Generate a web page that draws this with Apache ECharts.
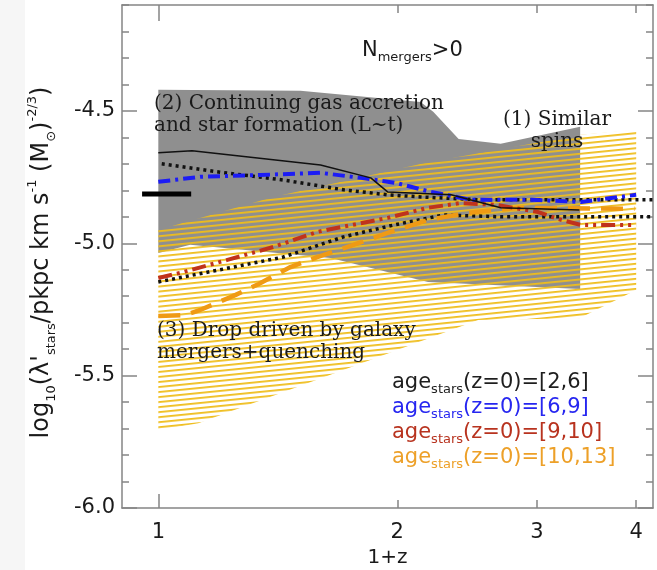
<!DOCTYPE html>
<html><head><meta charset="utf-8">
<script src="https://cdn.jsdelivr.net/npm/echarts@6/dist/echarts.min.js"></script>
<style>html,body{margin:0;padding:0;background:#fff}#c{width:657px;height:570px}</style>
</head><body><div id="c"></div>
<script>
// ---- data (x values are 1+z, y values are log10 lambda') ----
const grayUpperX = [1.0, 1.51, 2.14, 2.22, 2.39, 2.70, 3.40];
const grayUpperY = [-4.42, -4.424, -4.466, -4.503, -4.606, -4.624, -4.560];
const grayLowerX = [1.0, 1.097, 1.648, 2.187, 3.40];
const grayLowerY = [-5.037, -5.006, -5.056, -5.146, -5.173];

const hatchUpperX = [1.0, 1.396, 2.174, 3.41, 4.0];
const hatchUpperY = [-4.950, -4.825, -4.696, -4.590, -4.572];
const hatchLowerX = [1.0, 1.123, 1.578, 2.529, 3.393, 4.0];
const hatchLowerY = [-5.706, -5.680, -5.517, -5.290, -5.283, -5.177];

const age26X = [1.0, 1.103, 1.601, 1.852, 1.945, 2.338, 2.70, 3.393];
const age26Y = [-4.658, -4.651, -4.704, -4.753, -4.806, -4.817, -4.866, -4.874];

const age69X = [1.0, 1.129, 1.345, 1.601, 1.799, 1.992, 2.206, 2.477, 2.951, 3.41, 4.0];
const age69Y = [-4.768, -4.749, -4.742, -4.734, -4.753, -4.772, -4.806, -4.836, -4.836, -4.844, -4.817];

const age910X = [1.0, 1.065, 1.222, 1.396, 1.586, 1.945, 2.186, 2.405, 2.666, 3.01, 3.219, 3.41, 4.0];
const age910Y = [-5.131, -5.112, -5.063, -5.014, -4.957, -4.904, -4.866, -4.848, -4.855, -4.882, -4.912, -4.931, -4.931];

const age1013X = [1.0, 1.081, 1.129, 1.250, 1.338, 1.467, 1.586, 1.732, 1.945, 2.186, 2.455, 2.842, 3.98];
const age1013Y = [-5.275, -5.271, -5.252, -5.196, -5.154, -5.090, -5.052, -5.014, -4.961, -4.912, -4.885, -4.866, -4.870];

const dotUpperX = [1.01, 1.186, 1.437, 1.711, 1.945, 2.142, 2.551, 4.21];
const dotUpperY = [-4.700, -4.730, -4.761, -4.798, -4.817, -4.825, -4.836, -4.836];
const dotLowerX = [1.0, 1.243, 1.437, 1.711, 1.980, 2.29, 2.70, 4.21];
const dotLowerY = [-5.146, -5.090, -5.052, -4.976, -4.931, -4.893, -4.900, -4.900];

const refBarX = [0.954, 1.10];
const refBarY = [-4.814, -4.814];

const xTickLabels = [1, 2, 3, 4];
const yMajorTicks = [-6.0, -5.5, -5.0, -4.5];
const legendLabels = ['[2,6]', '[6,9]', '[9,10]', '[10,13]'];
const legendColors = ['#1e1e1e', '#2626f0', '#b8331f', '#eda028'];

// ---- chart ----
const lg = Math.log10;
const xMin = lg(0.9), xMax = lg(4.2);
const axisGray = '#858585';
const sans = 'DejaVu Sans';

function stripePattern() {
  const c = document.createElement('canvas');
  c.width = 40; c.height = 5;
  const ctx = c.getContext('2d');
  ctx.fillStyle = '#efbd1c';
  ctx.fillRect(0, 0, 40, 1.8);
  return { image: c, repeat: 'repeat', rotation: -0.1 };
}

function polygonSeries(xs1, ys1, xs2, ys2, style, z) {
  return {
    type: 'custom', coordinateSystem: 'cartesian2d', xAxisIndex: 0, yAxisIndex: 0,
    z: z, silent: true,
    data: [[(xMin + xMax) / 2, -5]],
    renderItem: function (params, api) {
      const pts = [];
      for (let i = 0; i < xs1.length; i++) pts.push(api.coord([lg(xs1[i]), ys1[i]]));
      for (let i = xs2.length - 1; i >= 0; i--) pts.push(api.coord([lg(xs2[i]), ys2[i]]));
      return { type: 'polygon', shape: { points: pts }, style: style };
    }
  };
}

function lineSeries(xs, ys, color, width, dash, z) {
  return {
    type: 'line', xAxisIndex: 0, yAxisIndex: 0,
    data: xs.map((x, i) => [lg(x), ys[i]]),
    symbol: 'none', showSymbol: false, silent: true, z: z,
    lineStyle: { color: color, width: width, type: dash, cap: 'butt', join: 'round' }
  };
}

const chart = echarts.init(document.getElementById('c'), null, { renderer: 'canvas' });

const xLogTicks = xTickLabels.map(v => lg(v));
const yMinor = { min: -6.0, max: -4.1, interval: 0.1 };
const lineSt = { color: axisGray, width: 1.5 };

function xAx(pos, showLine, tickVals, tickLen, extra) {
  return Object.assign({
    type: 'value', position: pos, min: xMin, max: xMax,
    axisLine: { show: showLine, onZero: false, lineStyle: lineSt },
    axisTick: { show: true, inside: true, length: tickLen, customValues: tickVals, lineStyle: lineSt },
    axisLabel: { show: false }, splitLine: { show: false }
  }, extra || {});
}
function yAx(pos, showLine, tickOpt, extra) {
  return Object.assign({
    type: 'value', position: pos, min: yMinor.min, max: yMinor.max,
    axisLine: { show: showLine, onZero: false, lineStyle: lineSt },
    axisTick: Object.assign({ show: true, inside: true, lineStyle: lineSt }, tickOpt),
    axisLabel: { show: false }, splitLine: { show: false }
  }, extra || {});
}

const option = {
  animation: false,
  backgroundColor: '#ffffff',
  grid: { left: 122, right: 4, top: 5, bottom: 62, containLabel: false, outerBoundsMode: 'none' },
  xAxis: [
    xAx('bottom', true, xLogTicks.slice(1), 8, {
      name: '1+z', nameLocation: 'middle', nameGap: 39,
      nameTextStyle: { fontFamily: sans, fontSize: 20, color: '#1a1a1a' },
      axisLabel: { show: true, customValues: xLogTicks, margin: 14, fontFamily: sans, fontSize: 21, color: '#1a1a1a',
        formatter: v => String(Math.round(Math.pow(10, v))) }
    }),
    xAx('bottom', false, [xLogTicks[0]], 14),
    xAx('top', true, [xLogTicks[0]], 16),
    xAx('top', false, xLogTicks.slice(1), 8)
  ],
  yAxis: [
    yAx('left', true, { length: 15, customValues: yMajorTicks }, {
      axisLabel: { show: true, customValues: yMajorTicks, margin: 7, fontFamily: sans, fontSize: 21, color: '#1a1a1a',
        formatter: v => v.toFixed(1) },
      name: '{b|log}{s|10}{b|(λ\'}{s|stars}{b|/pkpc km s}{p|-1}{b| (M}{s|⊙}{b|)}{p|-2/3}{b|)}',
      nameLocation: 'middle', nameGap: 64, nameRotate: 90,
      nameTextStyle: {
        color: '#1a1a1a',
        padding: [0, 12, 0, 0],
        rich: {
          b: { fontFamily: sans, fontSize: 24, lineHeight: 32, color: '#1a1a1a' },
          s: { fontFamily: sans, fontSize: 13, lineHeight: 10, verticalAlign: 'bottom', color: '#1a1a1a' },
          p: { fontFamily: sans, fontSize: 13, lineHeight: 12, verticalAlign: 'top', color: '#1a1a1a' }
        }
      }
    }),
    yAx('left', false, { length: 7 }, { interval: yMinor.interval }),
    yAx('right', true, { length: 15, customValues: yMajorTicks }),
    yAx('right', false, { length: 7 }, { interval: yMinor.interval })
  ],
  series: [
    polygonSeries(grayUpperX, grayUpperY, grayLowerX, grayLowerY, { fill: '#8f8f8f' }, 1),
    polygonSeries(hatchUpperX, hatchUpperY, hatchLowerX, hatchLowerY, { fill: stripePattern() }, 2),
    lineSeries(dotUpperX, dotUpperY, '#111111', 3.5, [3, 4], 3),
    lineSeries(dotLowerX, dotLowerY, '#111111', 3.5, [3, 4], 3),
    lineSeries(age1013X, age1013Y, '#ef9a14', 4.5, [22, 11], 4),
    lineSeries(age910X, age910Y, '#c0321c', 4, [14, 5, 3, 5, 3, 5], 5),
    lineSeries(age69X, age69Y, '#1c1cf5', 4, [12, 5, 3, 5], 6),
    lineSeries(age26X, age26Y, '#111111', 1.5, 'solid', 7),
    lineSeries(refBarX, refBarY, '#000000', 5, 'solid', 7)
  ],
  graphic: [
    { type: 'rect', z: -100, shape: { x: 0, y: 0, width: 25, height: 570 }, style: { fill: '#f6f6f6' } },
    {
      type: 'text', x: 362, y: 51, z: 100,
      style: {
        text: '{a|N}{s|mergers}{a|>0}', verticalAlign: 'middle',
        rich: {
          a: { fontFamily: sans, fontSize: 21, lineHeight: 26, fill: '#1a1a1a', color: '#1a1a1a' },
          s: { fontFamily: sans, fontSize: 13, lineHeight: 8, verticalAlign: 'bottom', fill: '#1a1a1a', color: '#1a1a1a' }
        }
      }
    },
    {
      type: 'text', x: 154, y: 93, z: 100,
      style: { text: '(2) Continuing gas accretion\nand star formation (L~t)', font: '20px "DejaVu Serif"', lineHeight: 22, fill: '#1a1a1a', verticalAlign: 'top' }
    },
    {
      type: 'text', x: 557, y: 109, z: 100,
      style: { text: '(1) Similar\nspins', font: '20px "DejaVu Serif"', lineHeight: 22, fill: '#1a1a1a', align: 'center', verticalAlign: 'top' }
    },
    {
      type: 'text', x: 157, y: 320, z: 100,
      style: { text: '(3) Drop driven by galaxy\nmergers+quenching', font: '20px "DejaVu Serif"', lineHeight: 22, fill: '#1a1a1a', verticalAlign: 'top' }
    }
  ].concat(legendLabels.map((lab, i) => ({
    type: 'text', x: 392, y: 383 + i * 25, z: 100,
    style: {
      text: '{a|age}{s|stars}{a|(z=0)=' + lab + '}', verticalAlign: 'middle',
      rich: {
        a: { fontFamily: sans, fontSize: 21, lineHeight: 26, fill: legendColors[i], color: legendColors[i] },
        s: { fontFamily: sans, fontSize: 13, lineHeight: 8, verticalAlign: 'bottom', fill: legendColors[i], color: legendColors[i] }
      }
    }
  })))
};

chart.setOption(option);
</script>
</body></html>
